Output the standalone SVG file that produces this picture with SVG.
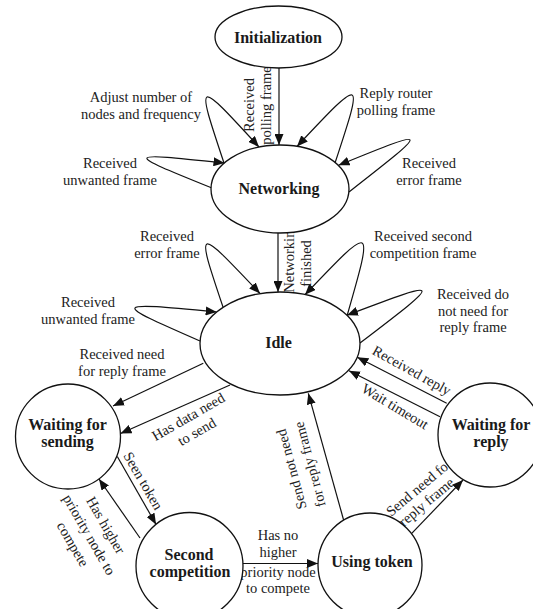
<svg xmlns="http://www.w3.org/2000/svg" width="533" height="609" viewBox="0 0 533 609">
<style>
.bg{fill:#fff}
.node{fill:#fff;stroke:#111;stroke-width:1.3}
.nt{font-family:"Liberation Serif","Times New Roman",serif;font-size:16px;font-weight:bold;fill:#1a1a1a;text-anchor:middle}
.lb{font-family:"Liberation Serif","Times New Roman",serif;font-size:14.5px;fill:#222;text-anchor:middle}
.c{fill:none;stroke:#111;stroke-width:1.2;marker-end:url(#ah)}
</style>
<defs>
<marker id="ah" markerUnits="userSpaceOnUse" markerWidth="11" markerHeight="9" refX="11" refY="4.5" orient="auto">
<path d="M0,0 L11,4.5 L0,9 Z" fill="#111"/>
</marker>
</defs>
<rect class="bg" width="533" height="609"/>
<g id="connectors">
<path class="c" d="M279,68 L279,145"/>
<path class="c" d="M278,233 L278,292"/>
<path class="c" d="M224,163 C195.5,77.7 195.5,77.7 259,147"/>
<path class="c" d="M212,188 C123.25,152.2 123.25,152.2 224.5,163"/>
<path class="c" d="M335,163 C364,75.1 364,75.1 297,146.4"/>
<path class="c" d="M349,192 C432.1,127.1 432.1,127.1 338.5,165.3"/>
<path class="c" d="M223,307 C195.5,225.25 195.5,225.25 260,293.5"/>
<path class="c" d="M200,341 C110.55,301.8 110.55,301.8 216.7,312"/>
<path class="c" d="M347,316 C374,222.2 374,222.2 305,294.7"/>
<path class="c" d="M360,343 C444.8,278.3 444.8,278.3 347,315.2"/>
<path class="c" d="M203.3,363.3 L113,406"/>
<path class="c" d="M230,385 L120.5,433.5"/>
<path class="c" d="M117.3,456.5 L156,524.4"/>
<path class="c" d="M140,538 L99,479"/>
<path class="c" d="M243,563.5 L318,563.5"/>
<path class="c" d="M343.6,520 L308.3,393.3"/>
<path class="c" d="M411.5,533.6 L463,480"/>
<path class="c" d="M446.7,403.3 L357.3,357.3"/>
<path class="c" d="M440,416.7 L349,370.7"/>
</g>
<g id="labels">
<text class="lb" x="141" y="102">Adjust number of</text>
<text class="lb" x="141" y="118.5">nodes and frequency</text>
<text class="lb" x="110" y="168">Received</text>
<text class="lb" x="110" y="184.5">unwanted frame</text>
<text class="lb" x="396" y="98">Reply router</text>
<text class="lb" x="396" y="114.5">polling frame</text>
<text class="lb" x="429" y="168">Received</text>
<text class="lb" x="429" y="184.5">error frame</text>
<text class="lb" transform="translate(254,105) rotate(-90)">Received</text>
<text class="lb" transform="translate(271,105.5) rotate(-90)">polling frame</text>
<text class="lb" transform="translate(294,258) rotate(-90)">Networking</text>
<text class="lb" transform="translate(311,263.5) rotate(-90)">finished</text>
<text class="lb" x="167" y="241">Received</text>
<text class="lb" x="167" y="257.5">error frame</text>
<text class="lb" x="423" y="241">Received second</text>
<text class="lb" x="423" y="257.5">competition frame</text>
<text class="lb" x="88" y="307">Received</text>
<text class="lb" x="88" y="323.5">unwanted frame</text>
<text class="lb" x="473" y="299">Received do</text>
<text class="lb" x="473" y="315.5">not need for</text>
<text class="lb" x="473" y="332">reply frame</text>
<text class="lb" x="122" y="359">Received need</text>
<text class="lb" x="122" y="375.5">for reply frame</text>
<text class="lb" transform="translate(190.7,421) rotate(-30)">Has data need</text>
<text class="lb" transform="translate(199.2,435.9) rotate(-30)">to send</text>
<text class="lb" transform="translate(139,483.3) rotate(60)">Seen token</text>
<text class="lb" transform="translate(101.5,527.6) rotate(60)">Has higher</text>
<text class="lb" transform="translate(85,537.1) rotate(60)">priority node to</text>
<text class="lb" transform="translate(68.6,546.6) rotate(60)">compete</text>
<text class="lb" x="278" y="540">Has no</text>
<text class="lb" x="278" y="556.5">higher</text>
<text class="lb" x="278" y="577">priority node</text>
<text class="lb" x="278" y="593">to compete</text>
<text class="lb" transform="translate(296,468) rotate(-105)">Send not need</text>
<text class="lb" transform="translate(314.4,463.1) rotate(-105)">for reply frame</text>
<text class="lb" transform="translate(422,491) rotate(-40)">Send need for</text>
<text class="lb" transform="translate(429.5,505.6) rotate(-40)">reply frame</text>
<text class="lb" transform="translate(409.5,374.7) rotate(29)">Received reply</text>
<text class="lb" transform="translate(392.6,410.5) rotate(31)">Wait timeout</text>
</g>
<g id="initialization"><ellipse class="node" cx="278.5" cy="37" rx="63.5" ry="31"/><text class="nt" x="278" y="43">Initialization</text></g>
<g id="networking"><ellipse class="node" cx="280" cy="189" rx="69" ry="44"/><text class="nt" x="279" y="194">Networking</text></g>
<g id="idle"><ellipse class="node" cx="280" cy="343.5" rx="80" ry="51.5"/><text class="nt" x="278.5" y="348">Idle</text></g>
<g id="waiting-for-sending"><circle class="node" cx="68" cy="436.5" r="52.5"/><text class="nt" x="67.5" y="430">Waiting for</text><text class="nt" x="67.5" y="447">sending</text></g>
<g id="second-competition"><circle class="node" cx="189.5" cy="566" r="53.5"/><text class="nt" x="189" y="560">Second</text><text class="nt" x="190" y="577">competition</text></g>
<g id="using-token"><circle class="node" cx="370" cy="565" r="52"/><text class="nt" x="372" y="567">Using token</text></g>
<g id="waiting-for-reply"><circle class="node" cx="490" cy="435" r="52"/><text class="nt" x="491" y="430">Waiting for</text><text class="nt" x="491" y="447">reply</text></g>
</svg>
